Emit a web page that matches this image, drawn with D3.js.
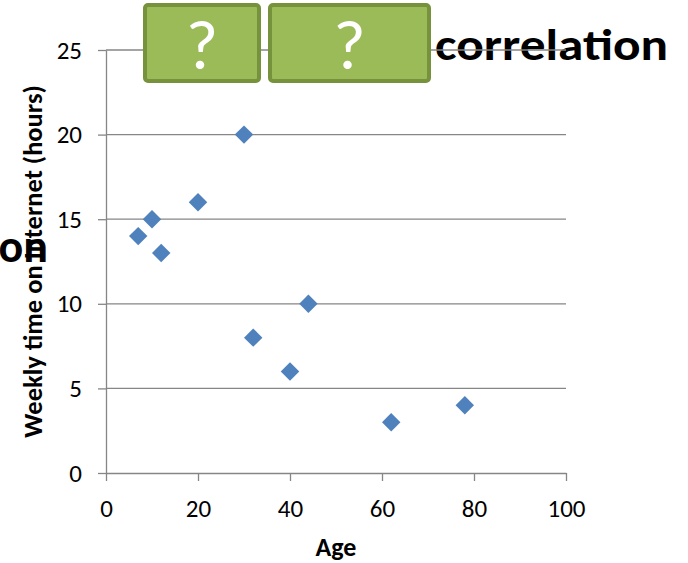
<!DOCTYPE html>
<html>
<head>
<meta charset="utf-8">
<script src="https://cdn.jsdelivr.net/npm/d3@7"></script>
<style>
  body { margin: 0; background: #fff; }
  svg { display: block; font-family: Carlito, Lato, "Open Sans", sans-serif; }
</style>
</head>
<body>
<svg width="688" height="563"></svg>
<script>
// data
const ages = [7, 10, 12, 20, 30, 32, 40, 44, 62, 78];
const hours = [14, 15, 13, 16, 20, 8, 6, 10, 3, 4];
const xTicks = [0, 20, 40, 60, 80, 100];
const yTicks = [0, 5, 10, 15, 20, 25];
const boxLabels = ["?", "?"];

const svg = d3.select("svg");
const margin = { left: 106, right: 122, top: 50, bottom: 90 };
const width = +svg.attr("width");
const height = +svg.attr("height");

const x = d3.scaleLinear().domain([0, 100]).range([margin.left, width - margin.right]);
const y = d3.scaleLinear().domain([0, 25]).range([height - margin.bottom, margin.top]);

const grey = "#868686";

// partially visible heading text at the left edge
svg.append("text")
    .attr("x", 48).attr("y", 262)
    .attr("text-anchor", "end")
    .attr("font-size", 46).attr("font-weight", "bold")
    .text("on");

// heading word on the right
svg.append("text")
    .attr("x", 435).attr("y", 60)
    .attr("font-size", 44).attr("font-weight", "bold")
    .attr("textLength", 233).attr("lengthAdjust", "spacingAndGlyphs")
    .text("correlation");

// horizontal gridlines
svg.append("g")
    .selectAll("line")
    .data(yTicks.filter(d => d > 0))
    .enter().append("line")
    .attr("x1", x(0)).attr("x2", x(100))
    .attr("y1", d => y(d)).attr("y2", d => y(d))
    .attr("stroke", grey).attr("stroke-width", 1.3);

// y axis
const yAxis = svg.append("g")
    .attr("transform", `translate(${x(0)},0)`)
    .call(d3.axisLeft(y).tickValues(yTicks).tickSize(8).tickPadding(16).tickSizeOuter(0));

// x axis
const xAxis = svg.append("g")
    .attr("transform", `translate(0,${y(0)})`)
    .call(d3.axisBottom(x).tickValues(xTicks).tickSize(8).tickPadding(18).tickSizeOuter(0));

[yAxis, xAxis].forEach(a => {
    a.select(".domain").attr("stroke", grey).attr("stroke-width", 1.3);
    a.selectAll(".tick line").attr("stroke", grey).attr("stroke-width", 1.3);
    a.selectAll(".tick text")
        .attr("font-family", "Carlito, Lato, 'Open Sans', sans-serif")
        .attr("font-size", 25).attr("fill", "#000");
});

// axis titles
svg.append("text")
    .attr("transform", `translate(42,${(y(0) + y(25)) / 2}) rotate(-90)`)
    .attr("text-anchor", "middle")
    .attr("font-size", 26.5).attr("font-weight", "bold")
    .text("Weekly time on Internet (hours)");

svg.append("text")
    .attr("x", (x(0) + x(100)) / 2).attr("y", 556)
    .attr("text-anchor", "middle")
    .attr("font-size", 26).attr("font-weight", "bold")
    .text("Age");

// points as diamonds
const diamond = d3.symbol().type(d3.symbolSquare).size(170);
svg.append("g")
    .selectAll("path")
    .data(ages.map((a, i) => ({ age: a, hours: hours[i] })))
    .enter().append("path")
    .attr("d", diamond)
    .attr("transform", d => `translate(${x(d.age)},${y(d.hours)}) rotate(45)`)
    .attr("fill", "#4F81BD");

// green question boxes
const boxes = [{ x0: 145, x1: 259 }, { x0: 270, x1: 429 }];
const boxG = svg.append("g")
    .selectAll("g")
    .data(boxes)
    .enter().append("g");

boxG.append("rect")
    .attr("x", d => d.x0).attr("y", 5)
    .attr("width", d => d.x1 - d.x0).attr("height", 76)
    .attr("rx", 3)
    .attr("fill", "#9BBB59")
    .attr("stroke", "#76923C").attr("stroke-width", 4);

boxG.append("text")
    .attr("x", d => (d.x0 + d.x1) / 2).attr("y", 69)
    .attr("text-anchor", "middle")
    .attr("font-size", 70).attr("fill", "#fff")
    .text((d, i) => boxLabels[i]);
</script>
</body>
</html>
